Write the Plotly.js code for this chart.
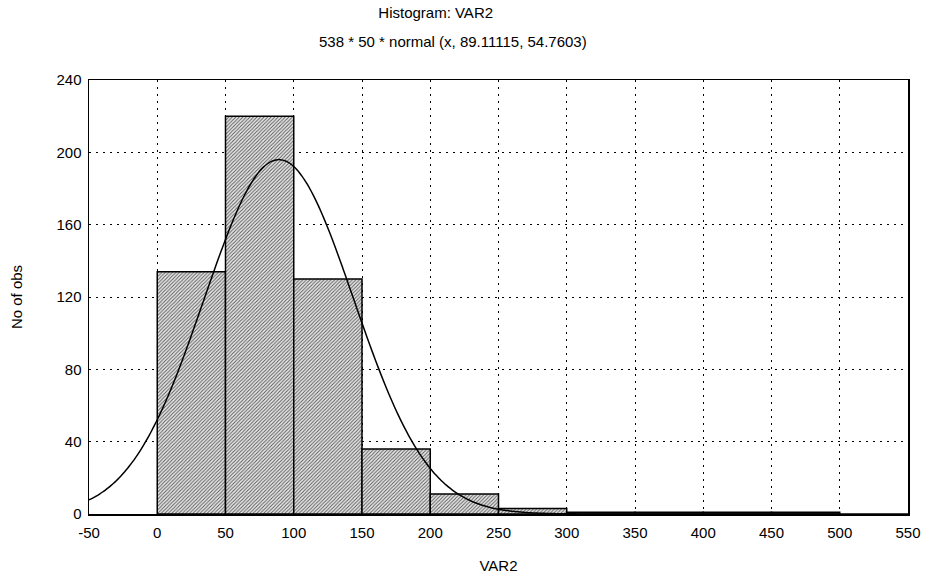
<!DOCTYPE html>
<html>
<head>
<meta charset="utf-8">
<script src="https://cdn.plot.ly/plotly-3.0.1.min.js"></script>
<style>
  html, body { margin: 0; padding: 0; background: #fff; }
  #chart { width: 927px; height: 580px; }
</style>
</head>
<body>
<div id="chart"></div>
<script>
// Histogram of VAR2: class limits (lower edges), class width and counts
const binLower = [0, 50, 100, 150, 200, 250, 300, 350, 400, 450];
const binWidth = 50;
const counts = [134, 220, 130, 36, 11, 3, 1, 1, 1, 1];

// Fitted normal curve parameters, as given in the subtitle
const nObs = 538;
const fitMean = 89.11115;
const fitSd = 54.7603;

const xTicks = [-50, 0, 50, 100, 150, 200, 250, 300, 350, 400, 450, 500, 550];
const yTicks = [0, 40, 80, 120, 160, 200, 240];

const binCenters = binLower.map(v => v + binWidth / 2);

// expected frequency curve: N * width * normal density
const curveX = [];
const curveY = [];
for (let x = -50; x <= 550; x += 2) {
  const z = (x - fitMean) / fitSd;
  curveX.push(x);
  curveY.push(nObs * binWidth * Math.exp(-0.5 * z * z) / (fitSd * Math.sqrt(2 * Math.PI)));
}

const fam = 'Liberation Sans, Arial, sans-serif';
const txt = size => ({ family: fam, size: size, color: '#000' });

const bars = {
  type: 'bar',
  x: binCenters,
  y: counts,
  width: binWidth,
  marker: {
    color: '#ffffff',
    line: { color: '#000', width: 1.5 },
    pattern: { shape: '/', fgcolor: '#5a5a5a', bgcolor: '#ececec', size: 2.5, solidity: 0.4 }
  },
  hoverinfo: 'x+y'
};

const curve = {
  type: 'scatter',
  mode: 'lines',
  x: curveX,
  y: curveY,
  line: { color: '#000', width: 1.5, shape: 'spline' },
  hoverinfo: 'skip'
};

const gridStyle = { showgrid: true, gridcolor: '#000', griddash: '2px,5px', gridwidth: 1 };

const layout = {
  width: 927,
  height: 580,
  margin: { l: 89, r: 19, t: 80, b: 66 },
  paper_bgcolor: '#fff',
  plot_bgcolor: '#fff',
  showlegend: false,
  bargap: 0,
  font: txt(15),
  title: {
    text: 'Histogram: VAR2',
    font: txt(15),
    xref: 'container', x: 0.47, xanchor: 'center',
    yref: 'container', y: 0.978, yanchor: 'middle'
  },
  annotations: [{
    text: '538 * 50 * normal (x, 89.11115, 54.7603)',
    xref: 'paper', yref: 'paper',
    x: 0.445, y: 1.0, yshift: 39,
    xanchor: 'center', yanchor: 'middle',
    showarrow: false,
    font: txt(15)
  }],
  xaxis: Object.assign({
    range: [-50, 550],
    tickvals: xTicks,
    ticktext: xTicks.map(String),
    tickfont: txt(15),
    ticklabelstandoff: 4,
    showline: true, mirror: true, linecolor: '#000', linewidth: 1.5,
    zeroline: false,
    ticks: '',
    title: { text: 'VAR2', standoff: 21, font: txt(15) }
  }, gridStyle),
  yaxis: Object.assign({
    range: [0, 240],
    tickvals: yTicks,
    ticktext: yTicks.map(String),
    tickfont: txt(15),
    ticklabelstandoff: 3,
    showline: true, mirror: true, linecolor: '#000', linewidth: 1.5,
    zeroline: false,
    ticks: '',
    title: { text: 'No of obs', standoff: 30, font: txt(15) }
  }, gridStyle)
};

Plotly.newPlot('chart', [bars, curve], layout, { displayModeBar: false, staticPlot: true });
</script>
</body>
</html>
